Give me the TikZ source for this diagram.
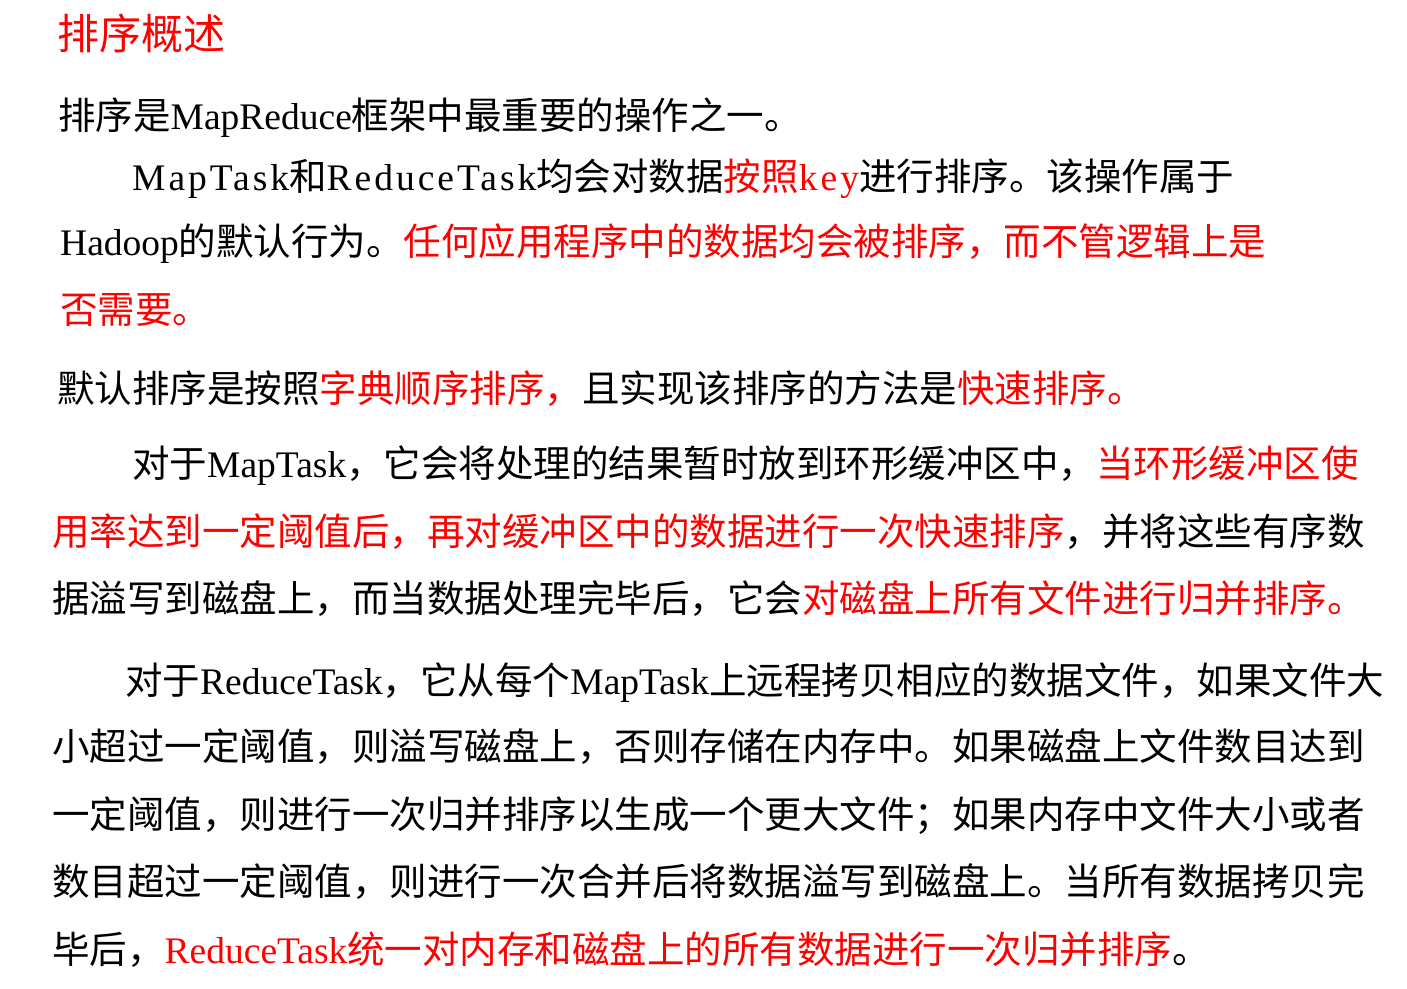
\documentclass[tikz,border=0pt]{standalone}
\usepackage{fontspec}
\setmainfont{Noto Sans CJK SC}
\newfontfamily\tmfont{Liberation Serif}
\newfontfamily\tmsp[LetterSpace=8]{Liberation Serif}
\newcommand{\tm}[1]{{\tmfont #1}}
\newcommand{\tms}[1]{{\tmsp #1}}
\newcommand{\rd}[1]{\textcolor{myred}{#1}}
\definecolor{myred}{RGB}{255,0,0}
\begin{document}
\begin{tikzpicture}[x=1pt,y=1pt,
  ln/.style={anchor=base west,inner sep=0pt,font=\fontsize{37.5}{44}\selectfont}]
\useasboundingbox (0,0) rectangle (1407,988);
\node[ln,text=myred,font=\fontsize{42}{48}\selectfont] (t) at (57,988-50) {排序概述};
\node[ln] (l1) at (58,988-130) {排序是\tm{MapReduce}框架中最重要的操作之一。};
\node[ln] (l2) at (132,988-191) {\tms{MapTask}和\tms{ReduceTask}均会对数据\rd{按照\tms{key}}进行排序。该操作属于};
\node[ln] (l3) at (60,988-256) {\tm{Hadoop}的默认行为。\rd{任何应用程序中的数据均会被排序，而不管逻辑上是}};
\node[ln] (l4) at (60,988-324) {\rd{否需要。}};
\node[ln] (l5) at (57,988-403) {默认排序是按照\rd{字典顺序排序，}且实现该排序的方法是\rd{快速排序。}};
\node[ln] (l6) at (132,988-478) {对于\tm{MapTask}，它会将处理的结果暂时放到环形缓冲区中，\rd{当环形缓冲区使}};
\node[ln] (l7) at (52,988-546) {\rd{用率达到一定阈值后，再对缓冲区中的数据进行一次快速排序}，并将这些有序数};
\node[ln] (l8) at (52,988-613) {据溢写到磁盘上，而当数据处理完毕后，它会\rd{对磁盘上所有文件进行归并排序。}};
\node[ln] (l9) at (125,988-695) {对于\tm{ReduceTask}，它从每个\tm{MapTask}上远程拷贝相应的数据文件，如果文件大};
\node[ln] (l10) at (52,988-761) {小超过一定阈值，则溢写磁盘上，否则存储在内存中。如果磁盘上文件数目达到};
\node[ln] (l11) at (52,988-828) {一定阈值，则进行一次归并排序以生成一个更大文件；如果内存中文件大小或者};
\node[ln] (l12) at (52,988-895) {数目超过一定阈值，则进行一次合并后将数据溢写到磁盘上。当所有数据拷贝完};
\node[ln] (l13) at (52,988-963) {毕后，\rd{\tm{ReduceTask}统一对内存和磁盘上的所有数据进行一次归并排序}。};
\end{tikzpicture}
\end{document}
